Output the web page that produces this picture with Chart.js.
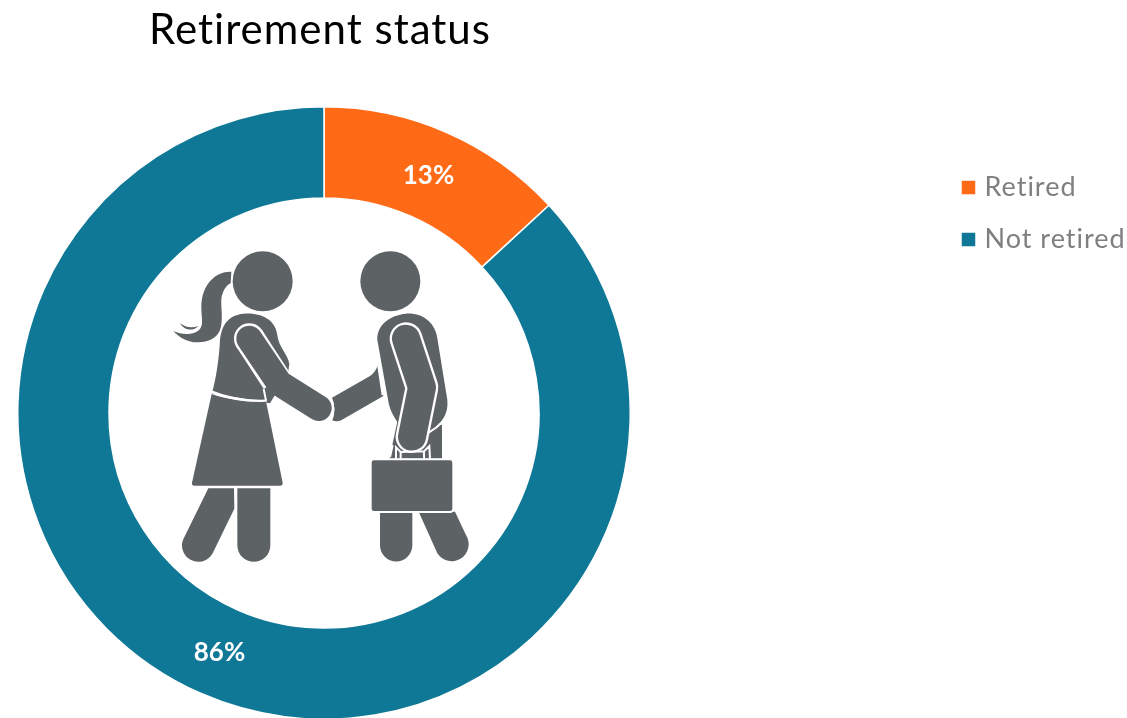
<!DOCTYPE html>
<html>
<head>
<meta charset="utf-8">
<style>
html,body{margin:0;padding:0;background:#fff;width:1127px;height:718px;overflow:hidden}
#wrap{position:relative;width:1127px;height:718px;overflow:hidden}
canvas{position:absolute;left:0;top:0}
#icon{position:absolute;left:160px;top:240px;width:330px;height:330px}
</style>
<script src="https://cdn.jsdelivr.net/npm/chart.js@4"></script>
</head>
<body>
<div id="wrap">
<canvas id="c" width="1127" height="720"></canvas>
<svg id="icon" viewBox="0 0 990 990" xmlns="http://www.w3.org/2000/svg" aria-hidden="true">
  <g fill="#5d6365">
    <!-- woman -->
    <circle cx="308" cy="124" r="90"/>
    <path d="M214,95 C170,93 125,130 124,200 C124,240 135,262 108,276 C88,286 62,283 40,273 C60,295 85,308 115,307 C145,306 170,295 180,270 C192,240 180,190 185,170 C190,150 200,135 212,130 Z"/>
    <path d="M60,249 C75,262 95,265 115,258 C100,275 72,272 60,249 Z"/>
    <path d="M250,221 C300,218 345,235 352,285 C355,320 385,345 388,372 L384,400 L330,490 L156,460 C172,400 178,340 180,300 C185,255 205,225 250,221 Z"/>
    <path d="M155,462 C210,482 270,486 318,484 L368,728 Q369,737 360,737 L104,737 Q94,737 96,728 Z"/>
    <path d="M145,745 L222,745 L223,806 L158,940 A49,49 0 0 1 72,893 Z"/>
    <path d="M232,745 L331,745 L331,916 A49,49 0 0 1 232,916 Z"/>
    <!-- man -->
    <circle cx="691" cy="124" r="90"/>
    <path d="M712,545 L846,555 L846,656 L688,656 Z"/>
    <path d="M738,221 C790,218 826,250 832,295 L862,480 C866,520 846,555 806,575 L716,552 C700,530 690,510 686,490 L652,300 C650,255 690,225 738,221 Z"/>
    <path d="M516,473 L630,408 Q648,396 654,372 L670,468 L545,540 Q530,548 515,540 Q530,505 516,473 Z"/>
    <path d="M660,810 L757,810 L757,916 A48.5,48.5 0 0 1 660,916 Z"/>
    <path d="M776,815 L885,815 L918,885 A49,49 0 0 1 832,940 Z"/>
  </g>
  <path d="M866,510 C860,535 840,558 806,578" fill="none" stroke="#fff" stroke-width="6"/>
  <path d="M155,455 C210,478 270,484 320,482" fill="none" stroke="#fff" stroke-width="7"/>
  <!-- woman's arm -->
  <circle cx="268" cy="296" r="46" fill="#fff"/>
  <path d="M268,296 L350,422" fill="none" stroke="#fff" stroke-width="92"/>
  <path d="M311,447 L318,482" fill="none" stroke="#fff" stroke-width="6"/>
  <path d="M268,296 L358,430 L476,504" fill="none" stroke="#5d6365" stroke-width="78" stroke-linecap="round" stroke-linejoin="round"/>
  <path d="M510,470 Q530,505 512,546" fill="none" stroke="#fff" stroke-width="6"/>
  <!-- man's arm -->
  <path d="M738,296 L786,442 L756,590" fill="none" stroke="#fff" stroke-width="98" stroke-linecap="round" stroke-linejoin="round"/>
  <path d="M654,372 L668,465" fill="none" stroke="#fff" stroke-width="6"/>
  <path d="M738,296 L786,442 L756,590" fill="none" stroke="#5d6365" stroke-width="84" stroke-linecap="round" stroke-linejoin="round"/>
  <!-- briefcase -->
  <path d="M690,652 L698,615 M708,656 L708,622 L722,636 L792,634 L808,618 L810,656 M722,636 L722,656 M792,634 L792,656" fill="none" stroke="#fff" stroke-width="6"/>
  <rect x="632" y="658" width="248" height="158" rx="10" fill="#5d6365" stroke="#fff" stroke-width="6"/>
</svg>
</div>
<script>
const titleText = 'Retirement status';
const categories = ['Retired', 'Not retired'];
const seriesValues = [13, 86];
const sliceColors = ['#ff6a17', '#0f7896'];
const valueLabels = ['13%', '86%'];

const spacingPlugin = {
  id: 'spacing',
  beforeLayout(chart) { chart.ctx.letterSpacing = '1px'; },
  beforeDraw(chart) { chart.ctx.letterSpacing = '1px'; }
};
const valueLabelPlugin = {
  id: 'valueLabels',
  afterDatasetsDraw(chart) {
    const ctx = chart.ctx;
    ctx.save();
    ctx.letterSpacing = '0px';
    ctx.font = '700 26px Lato, sans-serif';
    ctx.fillStyle = '#ffffff';
    ctx.textAlign = 'center';
    ctx.textBaseline = 'middle';
    chart.getDatasetMeta(0).data.forEach((arc, i) => {
      const p = arc.getCenterPoint();
      ctx.fillText(valueLabels[i], p.x, p.y + 1);
    });
    ctx.restore();
  }
};
const placePlugin = {
  id: 'place',
  afterLayout(chart) {
    const t = chart.titleBlock;
    t.left -= 4; t.right -= 4;
    const l = chart.legend;
    const w = l.width, h = l.height;
    l.left = 941; l.right = l.left + w;
    l.top = 149; l.bottom = l.top + h;
  }
};

new Chart(document.getElementById('c'), {
  type: 'doughnut',
  data: {
    labels: categories,
    datasets: [{
      data: seriesValues,
      backgroundColor: sliceColors,
      borderColor: '#ffffff',
      borderWidth: 1.5
    }]
  },
  plugins: [spacingPlugin, valueLabelPlugin, placePlugin],
  options: {
    responsive: false,
    animation: false,
    cutout: '70.2%',
    layout: { padding: { left: 17, right: 496, top: 0, bottom: 0 } },
    plugins: {
      tooltip: { enabled: false },
      title: {
        display: true,
        text: titleText,
        position: 'top',
        fullSize: false,
        color: '#000000',
        font: { family: 'Lato, sans-serif', size: 42, weight: '400', lineHeight: 1 },
        padding: { top: 9, bottom: 55 }
      },
      legend: {
        display: true,
        position: 'chartArea',
        align: 'start',
        labels: {
          usePointStyle: true,
          pointStyle: 'rect',
          boxWidth: 5,
          boxHeight: 15,
          padding: 25,
          color: '#7f7f7f',
          font: { family: 'Lato, sans-serif', size: 27, weight: '400' }
        }
      }
    }
  }
});
</script>
</body>
</html>
